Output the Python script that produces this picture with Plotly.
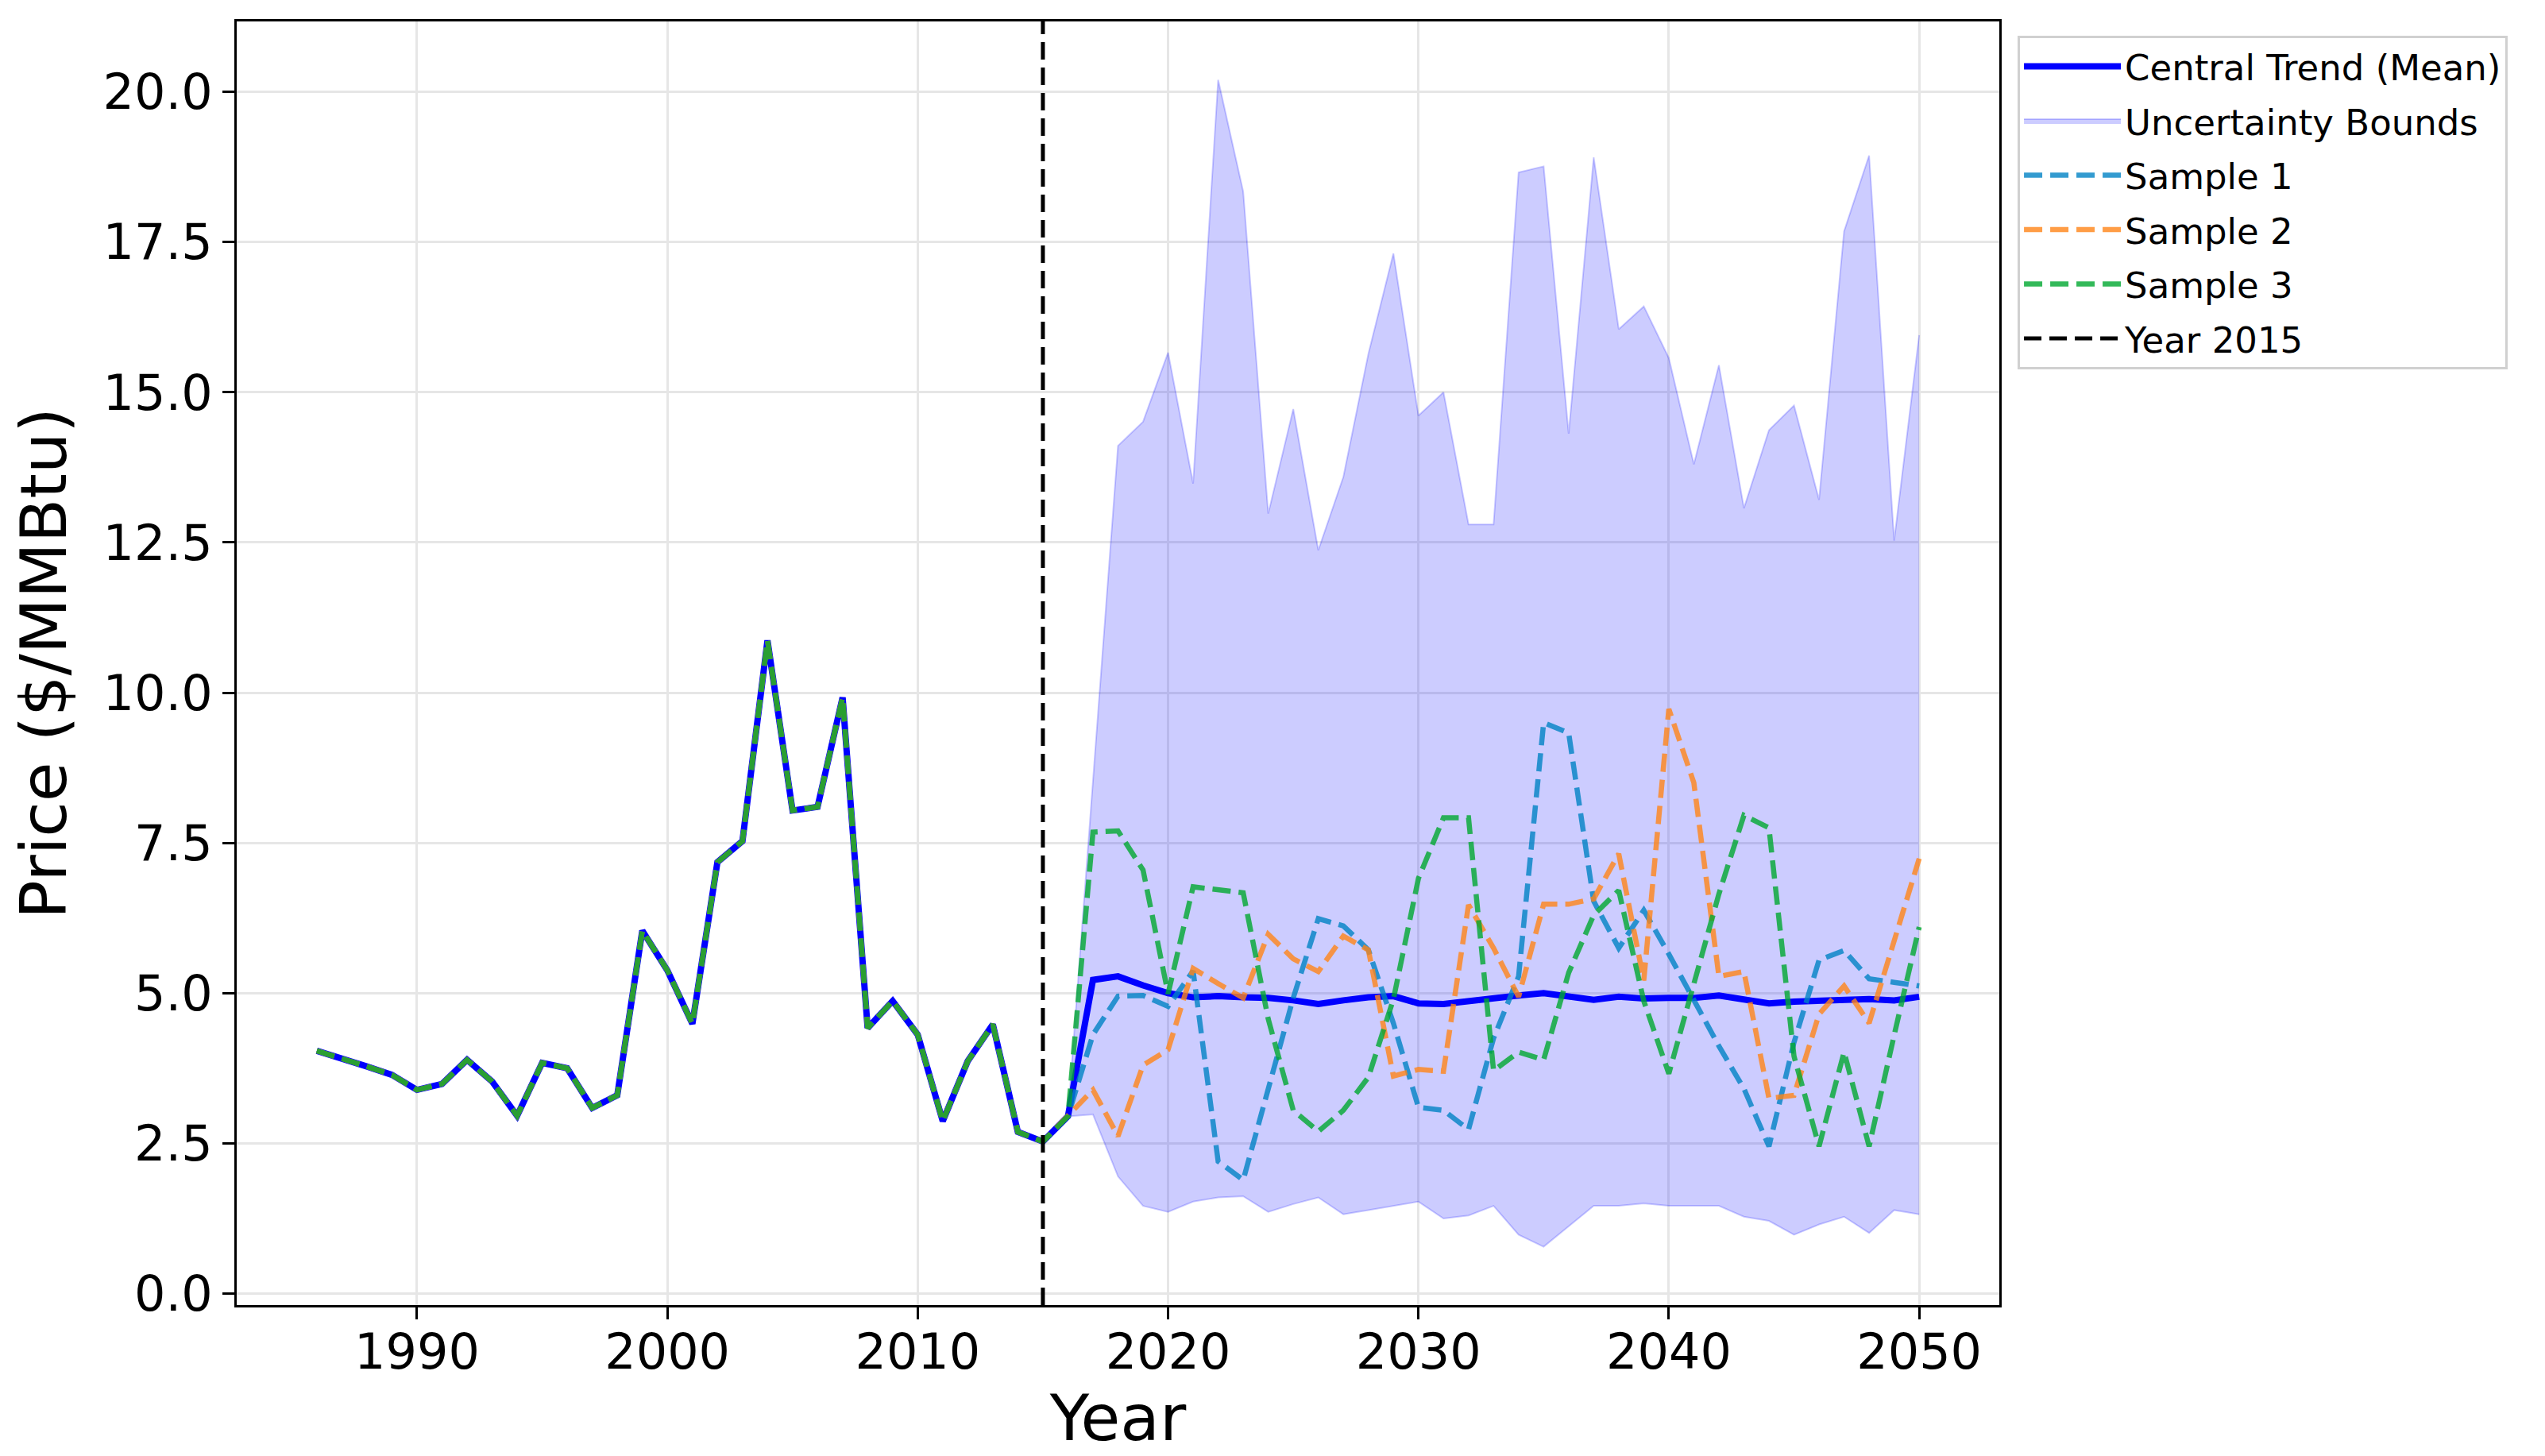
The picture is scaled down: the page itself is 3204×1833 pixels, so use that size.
import plotly.graph_objects as go

# ---------------- data ----------------
hist_years = list(range(1986, 2016))
hist_price = [4.04, 3.92, 3.78, 3.64, 3.39, 3.49, 3.89, 3.53, 2.96, 3.84,
              3.75, 3.09, 3.30, 6.04, 5.38, 4.49, 7.18, 7.53, 10.87, 8.04,
              8.10, 9.92, 4.42, 4.87, 4.31, 2.87, 3.87, 4.48, 2.69, 2.53]

fc_years = list(range(2016, 2051))
mean_fc = [2.95, 5.22, 5.28, 5.13, 5.00, 4.93, 4.95, 4.93, 4.92, 4.88,
           4.82, 4.88, 4.93, 4.95, 4.83, 4.82, 4.87, 4.93, 4.96, 5.00,
           4.94, 4.89, 4.94, 4.91, 4.92, 4.92, 4.96, 4.90, 4.83, 4.86,
           4.87, 4.90, 4.90, 4.88, 4.94]
upper_fc = [2.95, 8.55, 14.11, 14.51, 15.66, 13.48, 20.20, 18.34, 12.98, 14.72,
            12.37, 13.59, 15.64, 17.31, 14.61, 15.00, 12.80, 12.80, 18.66, 18.76,
            14.31, 18.91, 16.05, 16.43, 15.57, 13.80, 15.45, 13.07, 14.37, 14.78,
            13.21, 17.68, 18.94, 12.53, 15.95]
lower_fc = [2.95, 2.98, 1.95, 1.46, 1.36, 1.53, 1.60, 1.62, 1.36, 1.49,
            1.60, 1.32, 1.39, 1.46, 1.53, 1.25, 1.30, 1.46, 0.98, 0.78,
            1.12, 1.46, 1.46, 1.50, 1.46, 1.46, 1.46, 1.28, 1.21, 0.98,
            1.15, 1.28, 1.01, 1.39, 1.32]
sample1_fc = [2.95, 4.31, 4.95, 4.96, 4.78, 5.37, 2.20, 1.89, 3.40, 4.92,
              6.24, 6.12, 5.72, 4.50, 3.10, 3.05, 2.73, 4.25, 5.28, 9.50,
              9.33, 6.53, 5.75, 6.38, 5.65, 4.88, 4.12, 3.41, 2.45, 4.18,
              5.55, 5.71, 5.24, 5.18, 5.12]
sample2_fc = [2.95, 3.39, 2.62, 3.80, 4.06, 5.41, 5.16, 4.92, 5.98, 5.57,
              5.36, 5.95, 5.72, 3.62, 3.73, 3.70, 6.47, 5.75, 4.94, 6.48,
              6.48, 6.57, 7.32, 5.21, 9.73, 8.50, 5.28, 5.36, 3.25, 3.30,
              4.65, 5.12, 4.50, 5.88, 7.24]
sample3_fc = [2.95, 7.68, 7.70, 7.05, 4.99, 6.77, 6.72, 6.67, 4.57, 3.05,
              2.70, 3.05, 3.60, 4.90, 6.91, 7.92, 7.92, 3.71, 4.02, 3.89,
              5.34, 6.30, 6.71, 4.87, 3.66, 5.12, 6.65, 7.96, 7.75, 3.95,
              2.45, 4.02, 2.45, 4.30, 6.10]

split_year = 2015
x_ticks = [1990, 2000, 2010, 2020, 2030, 2040, 2050]

# ---------------- build ----------------
all_years = hist_years + fc_years
mean_all = hist_price + mean_fc
samples = [
    ("Sample 1", hist_price + sample1_fc, "rgba(0,130,196,0.8)"),
    ("Sample 2", hist_price + sample2_fc, "rgba(255,132,24,0.8)"),
    ("Sample 3", hist_price + sample3_fc, "rgba(0,168,48,0.8)"),
]

FONT = "DejaVu Sans"
fig = go.Figure()

fill_line = "rgba(0,0,255,0.2)"
fig.add_trace(go.Scatter(x=fc_years, y=lower_fc, mode="lines",
                         line=dict(color=fill_line, width=2),
                         showlegend=False, hoverinfo="skip"))
fig.add_trace(go.Scatter(x=fc_years, y=upper_fc, mode="lines", fill="tonexty",
                         fillcolor="rgba(0,0,255,0.2)",
                         line=dict(color=fill_line, width=2),
                         name="Uncertainty Bounds", legendrank=2,
                         legendgroup="b"))
fig.add_trace(go.Scatter(x=all_years, y=mean_all, mode="lines",
                         line=dict(color="#0000ff", width=8),
                         name="Central Trend (Mean)", legendrank=1,
                         legendgroup="a"))
for i, (nm, ys, col) in enumerate(samples):
    fig.add_trace(go.Scatter(x=all_years, y=ys, mode="lines",
                             line=dict(color=col, width=6.5, dash="23px,10px"),
                             name=nm, legendrank=3 + i, legendgroup="s%d" % i))
fig.add_trace(go.Scatter(x=[None], y=[None], mode="lines",
                         line=dict(color="black", width=5, dash="22px,10px"),
                         name="Year %d" % split_year, legendrank=6,
                         legendgroup="y"))
fig.add_shape(type="line", x0=split_year, x1=split_year, xref="x",
              y0=0, y1=1, yref="paper",
              line=dict(color="black", width=5, dash="22px,10px"),
              layer="above")

ymin = min(lower_fc + hist_price)
ymax = max(upper_fc + hist_price)
ypad = 0.05 * (ymax - ymin)
xmin, xmax = min(all_years), max(all_years)
xpad = 0.05 * (xmax - xmin)

axis_common = dict(showline=True, linecolor="black", linewidth=3, mirror=True,
                   ticks="outside", ticklen=15, tickwidth=3, tickcolor="black",
                   showgrid=True, gridcolor="#e6e6e6", gridwidth=3,
                   zeroline=False,
                   tickfont=dict(family=FONT, size=62, color="black"))

fig.update_layout(
    width=3204, height=1833,
    paper_bgcolor="white", plot_bgcolor="white",
    margin=dict(l=290, r=695, t=19, b=198),
    font=dict(family=FONT, color="black"),
    xaxis=dict(range=[xmin - xpad, xmax + xpad], tickvals=x_ticks,
               ticklabelstandoff=-12,
               title=dict(text="Year", font=dict(family=FONT, size=81),
                          standoff=6),
               **axis_common),
    yaxis=dict(range=[ymin - ypad, ymax + ypad], tick0=0, dtick=2.5,
               tickformat=".1f",
               title=dict(text="Price ($/MMBtu)", font=dict(family=FONT, size=81),
                          standoff=22),
               **axis_common),
    legend=dict(x=1.0104, y=0.989, xanchor="left", yanchor="top",
                bgcolor="white", bordercolor="#d0d0d0", borderwidth=3,
                font=dict(family=FONT, size=45, color="black"),
                traceorder="grouped", tracegroupgap=7, itemwidth=122),
    showlegend=True,
)

fig.write_html("out.html")
